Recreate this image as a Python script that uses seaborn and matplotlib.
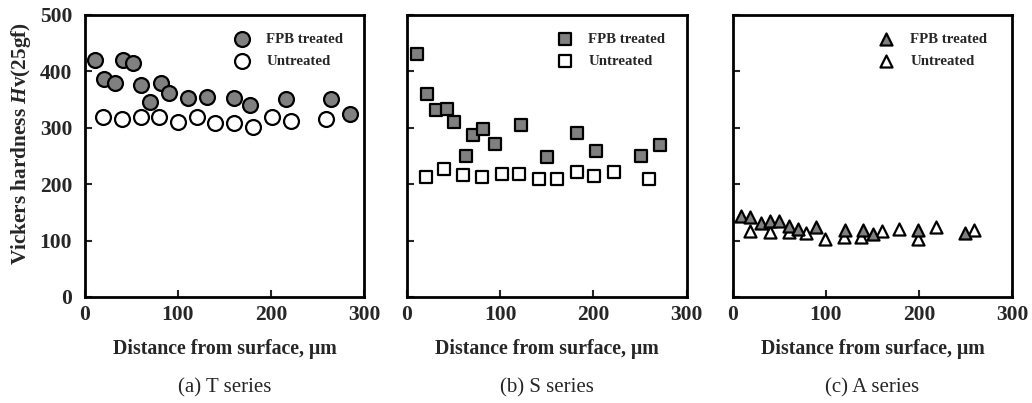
import numpy as np
import pandas as pd
import matplotlib
matplotlib.use("Agg")
import matplotlib.pyplot as plt
import seaborn as sns

# ---- data ----
t_fpb_x = [11, 21, 32, 41, 52, 60, 70, 82, 91, 111, 131, 160, 177, 216, 264, 285]
t_fpb_y = [420, 386, 380, 421, 415, 375, 346, 379, 361, 353, 354, 352, 340, 351, 351, 324]
t_unt_x = [20, 40, 60, 80, 100, 120, 140, 160, 181, 201, 221, 259]
t_unt_y = [320, 315, 320, 320, 311, 320, 309, 308, 302, 320, 312, 315]

s_fpb_x = [11, 21, 31, 43, 50, 63, 71, 82, 94, 122, 150, 182, 203, 251, 272]
s_fpb_y = [430, 360, 331, 333, 310, 250, 287, 298, 272, 305, 249, 290, 258, 250, 269]
s_unt_x = [20, 40, 60, 81, 102, 120, 142, 161, 182, 201, 222, 260]
s_unt_y = [212, 227, 216, 212, 218, 218, 209, 209, 221, 215, 222, 209]

a_fpb_x = [9, 19, 30, 40, 50, 60, 70, 89, 120, 140, 151, 199, 249]
a_fpb_y = [143, 141, 132, 135, 135, 126, 121, 125, 119, 119, 112, 119, 114]
a_unt_x = [19, 40, 60, 79, 99, 119, 138, 160, 178, 199, 218, 259]
a_unt_y = [117, 115, 116, 114, 103, 107, 107, 117, 121, 103, 125, 119]

x_ticks = [0, 100, 200, 300]
y_ticks = [0, 100, 200, 300, 400, 500]
captions = ["(a) T series", "(b) S series", "(c) A series"]
series_labels = ["FPB treated", "Untreated"]
xlabel_text = "Distance from surface, \u03bcm"
ylabel_text = "Vickers hardness $\\mathit{H}$v(25gf)"

panels = [
    (t_fpb_x, t_fpb_y, t_unt_x, t_unt_y, "o", 115),
    (s_fpb_x, s_fpb_y, s_unt_x, s_unt_y, "s", 80),
    (a_fpb_x, a_fpb_y, a_unt_x, a_unt_y, "^", 75),
]
legend_x = [0.511, 0.511, 0.497]

sns.set_style("ticks")
plt.rcParams["font.family"] = ["Liberation Serif", "DejaVu Serif"]
plt.rcParams["mathtext.fontset"] = "custom"
plt.rcParams["mathtext.rm"] = "Liberation Serif:bold"
plt.rcParams["mathtext.it"] = "Liberation Serif:italic:bold"

fig = plt.figure(figsize=(10.32, 4.03), dpi=100)
W, H = 1032.0, 403.0
ax_left_px = [84.7, 407.0, 732.7]
ax_w_px = 279.5
ax_top_px, ax_bot_px = 15.0, 297.0

for i, (fx, fy, ux, uy, mk, sz) in enumerate(panels):
    ax = fig.add_axes([ax_left_px[i] / W, 1 - ax_bot_px / H,
                       ax_w_px / W, (ax_bot_px - ax_top_px) / H])
    df_f = pd.DataFrame({"x": fx, "y": fy})
    df_u = pd.DataFrame({"x": ux, "y": uy})
    sns.scatterplot(data=df_u, x="x", y="y", marker=mk, s=sz, color="white",
                    edgecolor="black", linewidth=1.6, label=series_labels[1],
                    ax=ax, zorder=3)
    sns.scatterplot(data=df_f, x="x", y="y", marker=mk, s=sz, color="#808080",
                    edgecolor="black", linewidth=1.6, label=series_labels[0],
                    ax=ax, zorder=4)
    ax.set_xlim(0, 300)
    ax.set_ylim(0, 500)
    ax.set_xticks(x_ticks)
    ax.set_yticks(y_ticks)
    ax.tick_params(direction="in", length=5, width=1.5, labelsize=15.5)
    ax.tick_params(axis="x", pad=6)
    ax.tick_params(axis="y", pad=9)
    for lab in ax.get_xticklabels() + ax.get_yticklabels():
        lab.set_fontweight("bold")
    if i > 0:
        ax.set_yticklabels([])
    for sp in ax.spines.values():
        sp.set_visible(True)
        sp.set_linewidth(2.0)
        sp.set_color("black")
    ax.set_xlabel(xlabel_text, fontsize=14.3, fontweight="bold")
    ax.xaxis.set_label_coords(0.5, -0.15)
    if i == 0:
        ax.set_ylabel(ylabel_text, fontsize=15.3, fontweight="bold")
        ax.yaxis.set_label_coords(-0.185, 0.545)
    else:
        ax.set_ylabel("")
    ax.text(0.5, -0.323, captions[i], transform=ax.transAxes, ha="center",
            va="center", fontsize=15)
    h, l = ax.get_legend_handles_labels()
    order = [l.index(series_labels[0]), l.index(series_labels[1])]
    ax.legend([h[k] for k in order], [l[k] for k in order],
              loc="upper left", bbox_to_anchor=(legend_x[i], 0.963),
              frameon=False, borderpad=0, handlelength=1.0,
              handletextpad=1.1, labelspacing=0.55,
              prop={"family": "Liberation Serif", "weight": "bold", "size": 10.7})

fig.savefig("out.png", dpi=100)
